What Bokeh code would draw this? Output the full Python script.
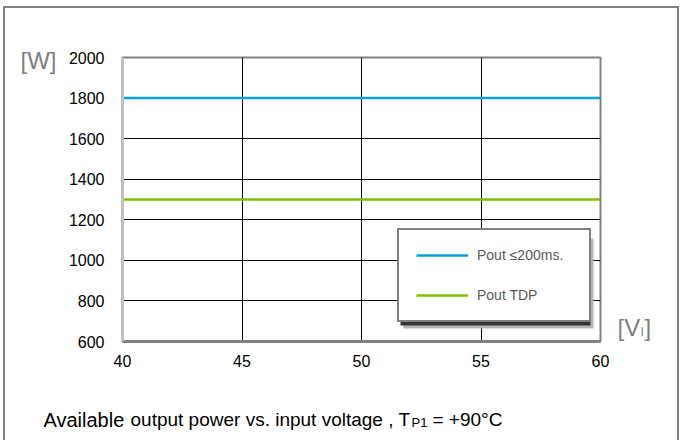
from bokeh.plotting import figure
from bokeh.layouts import row, column
from bokeh.models import (FixedTicker, Label, Legend, LegendItem, Range1d,
                          BoxAnnotation, LinearAxis)
from bokeh.embed import file_html
from bokeh.resources import INLINE

# ---- data ----
voltage = [40, 60]
pout_200ms = [1800, 1800]
pout_tdp = [1300, 1300]
x_ticks = [40, 45, 50, 55, 60]
y_ticks = [600, 800, 1000, 1200, 1400, 1600, 1800, 2000]
series_labels = ["Pout \u2264200ms.", "Pout TDP"]
y_unit = "[W]"
x_unit = ("[V", "I", "]")
caption = ("Available", "output power vs. input voltage , T", "P1", "= +90\u00b0C")

FONT = "Liberation Sans"
GRAY_TXT = "#7f7f7f"

# ---- main chart ----
p = figure(width=612, height=382, output_backend="svg", toolbar_location=None,
           x_range=Range1d(40, 60), y_range=Range1d(600, 2000),
           min_border_left=122, min_border_right=12, min_border_top=57,
           min_border_bottom=41)
p.border_fill_color = None
p.outline_line_color = "#808080"
p.outline_line_width = 2

for ax in (p.xaxis[0], p.yaxis[0]):
    ax.major_tick_line_color = None
    ax.minor_tick_line_color = None
    ax.major_tick_out = 0
    ax.major_tick_in = 0
    ax.minor_tick_out = 0
    ax.major_label_text_font = FONT
    ax.major_label_text_font_size = "16px"
    ax.major_label_text_color = "#000000"
p.xaxis[0].ticker = FixedTicker(ticks=x_ticks)
p.yaxis[0].ticker = FixedTicker(ticks=y_ticks)
p.xaxis[0].axis_line_color = "#808080"
p.xaxis[0].axis_line_width = 3
p.yaxis[0].axis_line_color = "#c0c0c0"
p.yaxis[0].axis_line_width = 3
p.xaxis[0].major_label_standoff = 13
p.yaxis[0].major_label_standoff = 18

# unit label of the y axis, as a second (outer) left axis
W_POS = 1985
ax_w = LinearAxis(ticker=FixedTicker(ticks=[W_POS]),
                  major_label_overrides={W_POS: y_unit})
ax_w.axis_line_color = None
ax_w.major_tick_line_color = None
ax_w.minor_tick_line_color = None
ax_w.major_tick_out = 0
ax_w.major_tick_in = 0
ax_w.minor_tick_out = 0
ax_w.major_label_standoff = 9
ax_w.major_label_text_font = FONT
ax_w.major_label_text_font_size = "24px"
ax_w.major_label_text_color = GRAY_TXT
p.add_layout(ax_w, "left")

p.xgrid.ticker = FixedTicker(ticks=x_ticks[1:-1])
p.ygrid.ticker = FixedTicker(ticks=y_ticks[1:-1])
for g in (p.xgrid, p.ygrid):
    g.grid_line_color = "black"
    g.grid_line_width = 1

r1 = p.line(voltage, pout_200ms, line_color="#00a0e3", line_width=2.5)
r2 = p.line(voltage, pout_tdp, line_color="#80bf00", line_width=2.5)

# legend with drop shadow (screen units relative to the plot frame)
LX, LY, LW, LH = 275, 19, 190, 90
for off, col in ((6, "#b4b4b4"), (3, "#333333")):
    p.add_layout(BoxAnnotation(left=LX + off, right=LX + LW + off,
                               bottom=LY - off, top=LY + LH - off,
                               left_units="screen", right_units="screen",
                               bottom_units="screen", top_units="screen",
                               fill_color=col, fill_alpha=1, line_color=None))

lg = Legend(items=[LegendItem(label=series_labels[0], renderers=[r1]),
                   LegendItem(label=series_labels[1], renderers=[r2])],
            location=(LX, LY))
lg.glyph_width = 52
lg.glyph_height = 16
lg.spacing = 24
lg.padding = 17
lg.margin = 0
lg.label_standoff = 9
lg.label_width = 95
lg.label_height = 16
lg.label_text_font = FONT
lg.label_text_font_size = "14px"
lg.label_text_color = "#595959"
lg.background_fill_color = "white"
lg.background_fill_alpha = 1
lg.border_line_color = "black"
lg.border_line_width = 2
p.add_layout(lg, "center")

# ---- helper panels for text outside the plot frame ----
def panel(w, h):
    f = figure(width=w, height=h, output_backend="svg", toolbar_location=None,
               x_axis_type=None, y_axis_type=None, min_border=0,
               x_range=Range1d(0, w), y_range=Range1d(0, h))
    f.outline_line_color = None
    f.border_fill_color = None
    f.background_fill_color = None
    return f

def lab(f, text, x, y, size, color="#000000"):
    f.add_layout(Label(x=x, y=y, x_units="screen", y_units="screen", text=text,
                       text_font=FONT, text_font_size=size, text_color=color,
                       text_align="left", text_baseline="alphabetic"))

p_right = panel(69, 382)   # its frame is aligned with the main plot frame
lab(p_right, x_unit[0], 5, 14, "24px", GRAY_TXT)
lab(p_right, x_unit[1], 28, 10, "12px", GRAY_TXT)
lab(p_right, x_unit[2], 32, 14, "24px", GRAY_TXT)

p_cap = panel(681, 58)
lab(p_cap, caption[0], 43, 21, "20px")
lab(p_cap, caption[1], 130, 21, "19px")
lab(p_cap, caption[2], 411, 18, "13px")
lab(p_cap, caption[3], 432, 21, "19px")

# outer page frame (left, top and right edges) drawn as CSS background lines
G = "linear-gradient(#808080, #808080)"
frame_bg = (f"{G} 3px 6px / 2px 100% no-repeat, "
            f"{G} 3px 6px / 676px 2px no-repeat, "
            f"{G} 677px 6px / 2px 100% no-repeat, white")

layout = column(row(p, p_right), p_cap, styles={"background": frame_bg})

open("out.html", "w").write(file_html(layout, INLINE))
